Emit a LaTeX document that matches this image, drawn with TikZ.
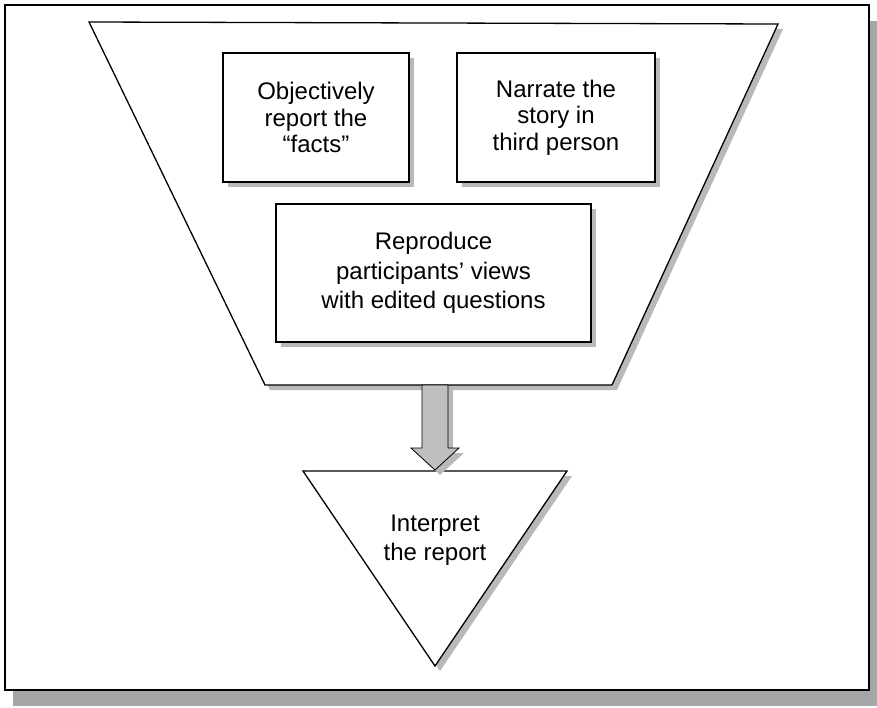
\documentclass[tikz,border=0pt]{standalone}
\usepackage{fontspec}
\setmainfont{Liberation Sans}
\usetikzlibrary{shadows,calc}
\tikzset{
  sh/.style={drop shadow={shadow xshift=5pt,shadow yshift=-5pt,fill=gray!55,opacity=1}},
  framesh/.style={drop shadow={shadow xshift=8pt,shadow yshift=-16pt,fill=gray!70,opacity=1}},
  box/.style={draw=black,line width=1.3pt,fill=white,sh,align=center,
    font=\fontsize{24}{26.5}\selectfont,inner sep=0pt},
  widebox/.style={box,font=\fontsize{24}{29.5}\selectfont},
  lbl/.style={align=center,font=\fontsize{24}{29.5}\selectfont,inner sep=0pt},
  figshape/.style={draw=black,line width=1.3pt,fill=white,sh,line join=miter},
}
\begin{document}
\begin{tikzpicture}[x=1pt,y=-1pt]
\useasboundingbox (0,0) rectangle (877,707);
% outer frame
\draw[line width=1.6pt,fill=white,framesh] (5,5) rectangle (869,690);
% funnel (trapezoid)
\coordinate (tl) at (89,22);
\coordinate (tr) at (778,24);
\coordinate (br) at (612,385);
\coordinate (bl) at (265,385);
\draw[figshape] (tl) -- (tr) -- (br) -- (bl) -- cycle;
% boxes
\node[box,minimum width=186pt,minimum height=129pt] (b1) at (316,117.5)
  {Objectively\\report the\\“facts”};
\node[box,minimum width=198pt,minimum height=129pt] (b2) at (556,117.5)
  {Narrate the\\story in\\third person};
\node[widebox,minimum width=315pt,minimum height=138pt] (b3) at (433.5,273)
  {Reproduce\\participants’ views\\with edited questions};
% triangle
\coordinate (ttl) at (303,471);
\coordinate (ttr) at (567,471);
\coordinate (tb) at (435,666);
\draw[figshape] (ttl) -- (ttr) -- (tb) -- cycle;
\node[lbl] (interp) at (435,540) {Interpret\\the report};
% block arrow
\coordinate (as) at (435,385);
\coordinate (ae) at (435,470);
\draw[line width=0.8pt,fill=gray!50,sh]
  ($(as)+(-13,0)$) -- ($(as)+(13,0)$) -- ($(ae)+(13,-22)$) -- ($(ae)+(24,-22)$)
  -- (ae) -- ($(ae)+(-24,-22)$) -- ($(ae)+(-13,-22)$) -- cycle;
\end{tikzpicture}
\end{document}
